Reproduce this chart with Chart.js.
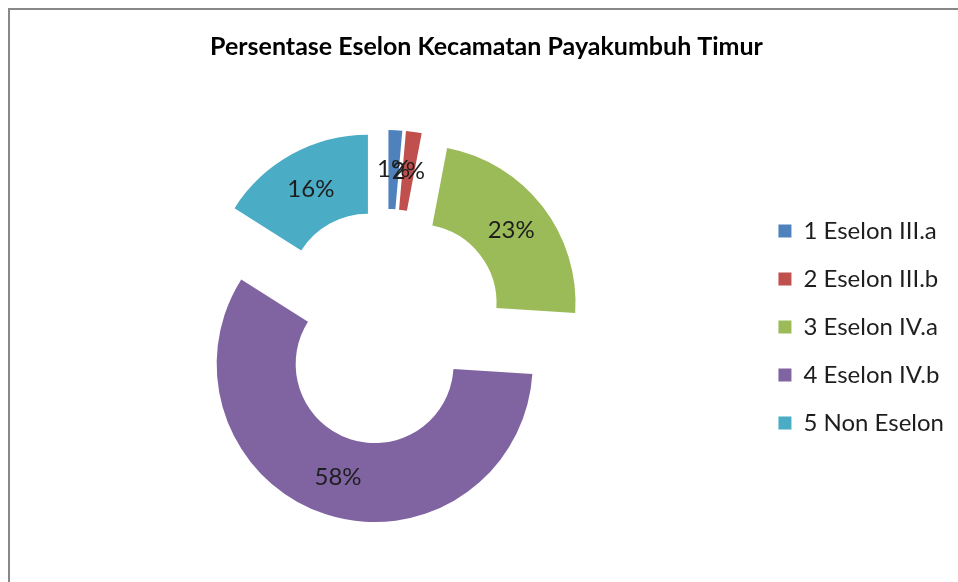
<!DOCTYPE html>
<html>
<head>
<meta charset="utf-8">
<title>Persentase Eselon Kecamatan Payakumbuh Timur</title>
<script src="https://cdn.jsdelivr.net/npm/chart.js@4"></script>
<style>
  html, body { margin: 0; padding: 0; background: #fff; overflow: hidden; }
  #wrap { position: relative; width: 958px; height: 582px; }
  #frame { position: absolute; left: 8px; top: 8px; width: 1000px; height: 700px; border: 2px solid #888; }
  #eselon_chart { position: absolute; left: 0; top: 0; }
</style>
</head>
<body>
<div id="wrap">
  <div id="frame"></div>
  <canvas id="eselon_chart" width="958" height="582"></canvas>
</div>
<script>
// data (slice angles; labels show them rounded)
const eselon_labels = ['1 Eselon III.a', '2 Eselon III.b', '3 Eselon IV.a', '4 Eselon IV.b', '5 Non Eselon'];
const eselon_percent = [1.4, 1.6, 23, 58, 16];
const eselon_colors = ['#4F81BD', '#C0504D', '#9BBB59', '#8064A2', '#4BACC6'];

const RADIUS = 158;     // outer radius of the ring
const CUTOUT = 0.5;     // hole size as part of the radius
const EXPLODE = 39;     // how far each slice is pulled out

// Chart.js' own arc offset also trims thin slices away, so pull the
// slices out by moving each arc's centre along its middle angle instead.
const explodeSlices = {
	id: 'explodeSlices',
	afterDatasetsUpdate(chart) {
		chart.getDatasetMeta(0).data.forEach(function(arc) {
			const mid = (arc.startAngle + arc.endAngle) / 2;
			arc.x += Math.cos(mid) * EXPLODE;
			arc.y += Math.sin(mid) * EXPLODE;
		});
	}
};

// percentage text in the middle of each slice
const sliceLabels = {
	id: 'sliceLabels',
	afterDatasetsDraw(chart) {
		const ctx = chart.ctx;
		const dist = (RADIUS + RADIUS * CUTOUT) / 2;
		ctx.save();
		ctx.font = '24px Lato';
		ctx.fillStyle = '#1e1e1e';
		ctx.textAlign = 'center';
		ctx.textBaseline = 'middle';
		chart.getDatasetMeta(0).data.forEach(function(arc, i) {
			const mid = (arc.startAngle + arc.endAngle) / 2;
			ctx.fillText(Math.round(eselon_percent[i]) + '%', arc.x + Math.cos(mid) * dist, arc.y + Math.sin(mid) * dist);
		});
		ctx.restore();
	}
};

const ctx = document.getElementById('eselon_chart').getContext('2d');
const eselon_chart = new Chart(ctx, {
	type: 'doughnut',
	data: {
		labels: eselon_labels,
		datasets: [{
			data: eselon_percent,
			backgroundColor: eselon_colors,
			borderWidth: 0
		}]
	},
	options: {
		responsive: false,
		animation: false,
		radius: RADIUS,
		cutout: (CUTOUT * 100) + '%',
		layout: {
			padding: { left: 19, right: 4, top: 0, bottom: 7 }
		},
		plugins: {
			title: {
				display: true,
				text: 'Persentase Eselon Kecamatan Payakumbuh Timur',
				color: '#000',
				font: { family: 'Lato', size: 25, weight: 'bold' },
				padding: { top: 32, bottom: 17 }
			},
			legend: {
				position: 'right',
				fullSize: false,
				labels: {
					color: '#1e1e1e',
					font: { family: 'Lato', size: 24 },
					boxWidth: 13,
					boxHeight: 13,
					padding: 24
				}
			},
			tooltip: { enabled: false }
		}
	},
	plugins: [explodeSlices, sliceLabels]
});
</script>
</body>
</html>
